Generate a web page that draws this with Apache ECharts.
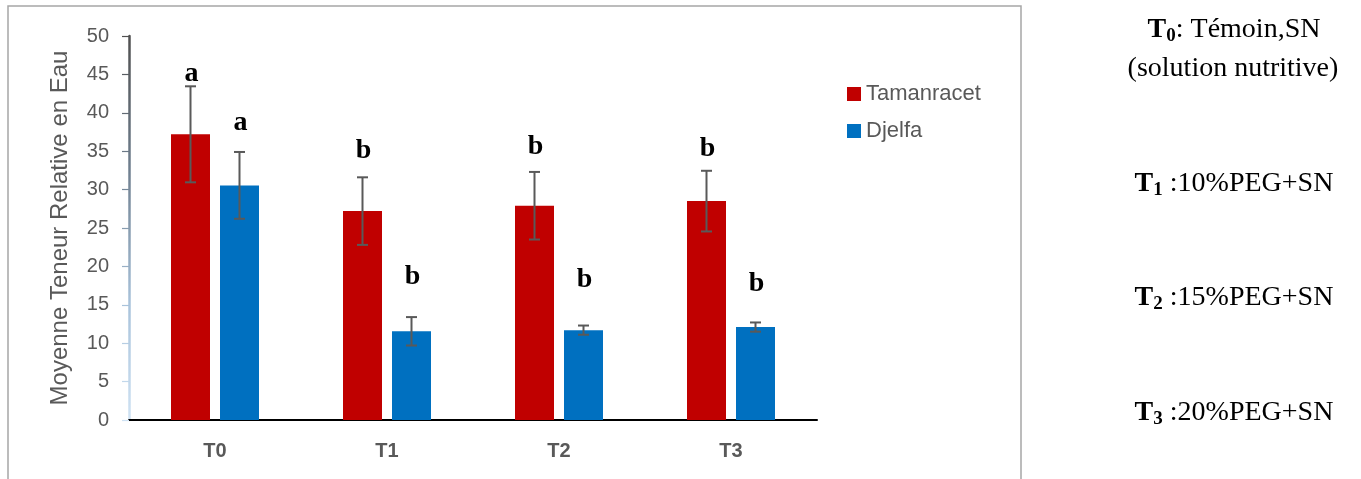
<!DOCTYPE html>
<html>
<head>
<meta charset="utf-8">
<script src="https://cdn.jsdelivr.net/npm/echarts@6/dist/echarts.min.js"></script>
<style>
  html, body { margin: 0; padding: 0; background: #ffffff; }
  #chart { width: 1361px; height: 479px; }
</style>
</head>
<body>
<div id="chart"></div>
<script>
// Relative water content by treatment, two provenances (mean ± error)
const categories = ['T0', 'T1', 'T2', 'T3'];
const seriesNames = ['Tamanracet', 'Djelfa'];

const tamanracetMean = [37.2, 27.2, 27.9, 28.5];
const tamanracetErr  = [6.25, 4.4, 4.4, 3.95];
const tamanracetLetters = ['a', 'b', 'b', 'b'];

const djelfaMean = [30.55, 11.55, 11.7, 12.1];
const djelfaErr  = [4.35, 1.85, 0.6, 0.6];
const djelfaLetters = ['a', 'b', 'b', 'b'];

const yMin = 0, yMax = 50, yStep = 5;
const yAxisTitle = 'Moyenne Teneur Relative en Eau';

// Treatment key printed beside the chart
const noteSubscripts = ['0', '1', '2', '3'];
const noteTexts = [': Témoin,SN', ' :10%PEG+SN', ' :15%PEG+SN', ' :20%PEG+SN'];
const noteExtra = '(solution nutritive)';

// ---- styling / layout ----
const RED = '#C00000', BLUE = '#0070C0', GREY = '#595959';
const BAR_W = 39, BAR_GAP = 10;
const SANS = '"Liberation Sans", Arial, sans-serif';
const SERIF = '"Liberation Serif", "Times New Roman", serif';
// distance (px) between error-cap top and the significance letter's baseline
const letterLift = [[5, 21], [19, 32], [17, 38], [14, 31]];

function errorSeries(name, means, errs, letters, side, sIdx) {
  return {
    type: 'custom',
    name: name + ' ±',
    silent: true,
    z: 5,
    data: means.map((m, i) => [i, m, errs[i]]),
    encode: { x: 0, y: 1 },
    renderItem(params, api) {
      const i = api.value(0), m = api.value(1), e = api.value(2);
      const cx = api.coord([i, m])[0] + side * (BAR_W + BAR_GAP) / 2;
      const yTop = api.coord([i, m + e])[1];
      const yBot = api.coord([i, m - e])[1];
      const cap = 5.5;
      const st = { stroke: GREY, lineWidth: 2 };
      return {
        type: 'group',
        children: [
          { type: 'line', shape: { x1: cx, y1: yTop, x2: cx, y2: yBot }, style: st },
          { type: 'line', shape: { x1: cx - cap, y1: yTop, x2: cx + cap, y2: yTop }, style: st },
          { type: 'line', shape: { x1: cx - cap, y1: yBot, x2: cx + cap, y2: yBot }, style: st },
          {
            type: 'text', x: cx + 1, y: yTop - letterLift[i][sIdx] + 6,
            style: {
              text: letters[i], fill: '#000000',
              font: 'bold 28px ' + SERIF,
              align: 'center', verticalAlign: 'bottom'
            }
          }
        ]
      };
    }
  };
}

// y axis line fades from dark grey at the top to pale blue at zero
const axisGradient = {
  type: 'linear', global: true, x: 0, y: 36, x2: 0, y2: 420,
  colorStops: [
    { offset: 0, color: '#505050' },
    { offset: 0.35, color: '#6F7F8F' },
    { offset: 0.7, color: '#A9C3DB' },
    { offset: 1, color: '#CFE2F3' }
  ]
};

function noteRich(sub, txt) {
  return '{b|T}{s|' + sub + '}{r|' + txt + '}';
}
const richStyles = {
  b: { fontFamily: SERIF, fontWeight: 'bold', fontSize: 28, fill: '#000', lineHeight: 32 },
  s: { fontFamily: SERIF, fontWeight: 'bold', fontSize: 19, fill: '#000', lineHeight: 32, verticalAlign: 'bottom' },
  r: { fontFamily: SERIF, fontSize: 28, fill: '#000', lineHeight: 32 }
};
const noteY = [30, 184, 298, 413];

const graphics = [
  {
    type: 'rect', z: -1, silent: true,
    shape: { x: 8, y: 6, width: 1013, height: 520 },
    style: { fill: 'none', stroke: '#A6A6A6', lineWidth: 1.5 }
  },
  {
    type: 'text', x: 60, y: 228, rotation: Math.PI / 2,
    style: {
      text: yAxisTitle, fill: GREY, font: '24px ' + SANS,
      align: 'center', verticalAlign: 'middle'
    }
  },
  {
    type: 'text', x: 1233, y: 69,
    style: { text: noteExtra, fill: '#000', font: '28px ' + SERIF, align: 'center', verticalAlign: 'middle' }
  }
];
noteTexts.forEach((t, k) => {
  graphics.push({
    type: 'text', x: 1234, y: noteY[k],
    style: { text: noteRich(noteSubscripts[k], t), rich: richStyles, align: 'center', verticalAlign: 'middle' }
  });
});

const chart = echarts.init(document.getElementById('chart'), null, { renderer: 'canvas' });
chart.setOption({
  backgroundColor: '#ffffff',
  animation: false,
  grid: { left: 129, top: 36, width: 688, height: 384, containLabel: false },
  legend: {
    data: seriesNames,
    orient: 'vertical',
    left: 847, top: 83,
    padding: 0,
    itemWidth: 14, itemHeight: 14, itemGap: 15,
    icon: 'rect',
    textStyle: { color: GREY, fontSize: 22, fontFamily: SANS }
  },
  xAxis: {
    type: 'category',
    data: categories,
    axisLine: { lineStyle: { color: '#000000', width: 2 } },
    axisTick: { show: false },
    axisLabel: { color: GREY, fontWeight: 'bold', fontSize: 20, fontFamily: SANS, margin: 21 },
    splitLine: { show: false }
  },
  yAxis: {
    type: 'value',
    min: yMin, max: yMax, interval: yStep,
    axisLine: { show: true, lineStyle: { color: axisGradient, width: 2.5 } },
    axisTick: { show: true, length: 7, lineStyle: { color: axisGradient, width: 1.2 } },
    axisLabel: { color: GREY, fontSize: 20, fontFamily: SANS, margin: 20 },
    splitLine: { show: false }
  },
  series: [
    {
      name: seriesNames[0], type: 'bar', data: tamanracetMean,
      barWidth: BAR_W, barGap: (BAR_GAP / BAR_W * 100) + '%',
      itemStyle: { color: RED }
    },
    {
      name: seriesNames[1], type: 'bar', data: djelfaMean,
      barWidth: BAR_W,
      itemStyle: { color: BLUE }
    },
    errorSeries(seriesNames[0], tamanracetMean, tamanracetErr, tamanracetLetters, -1, 0),
    errorSeries(seriesNames[1], djelfaMean, djelfaErr, djelfaLetters, 1, 1)
  ],
  graphic: graphics
});
</script>
</body>
</html>
